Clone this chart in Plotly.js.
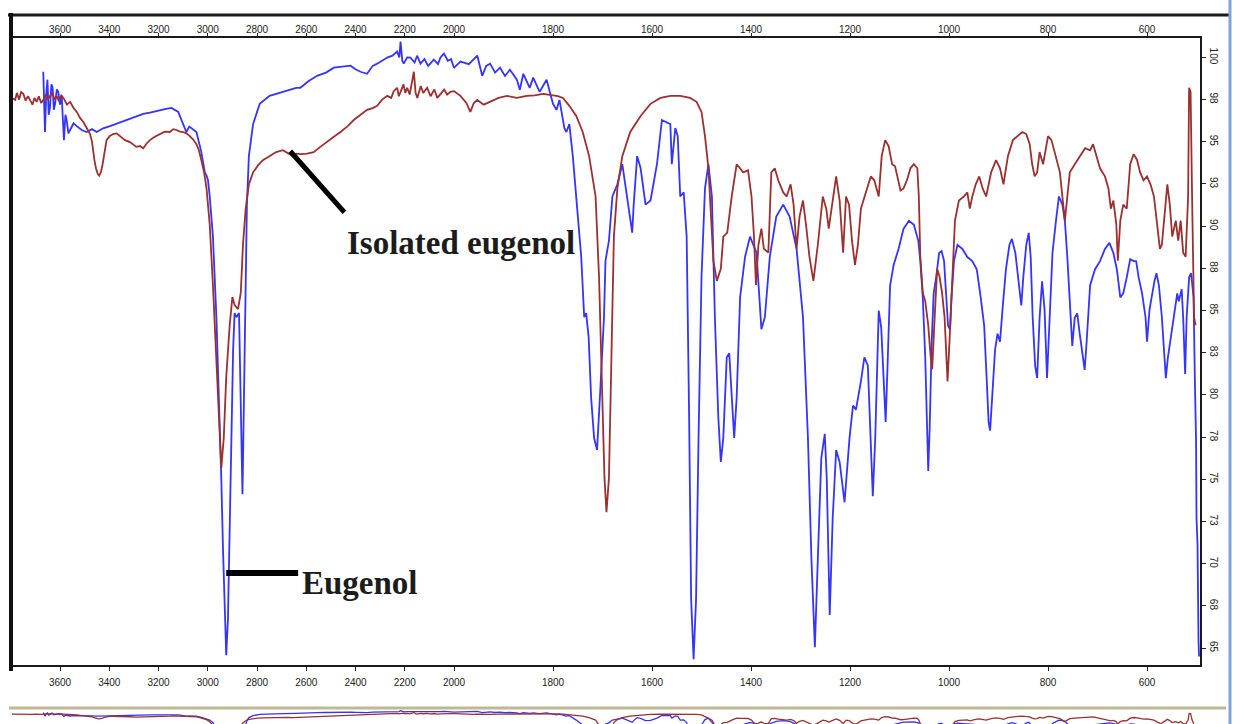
<!DOCTYPE html>
<html>
<head>
<meta charset="utf-8">
<script src="https://cdn.plot.ly/plotly-3.0.1.min.js"></script>
<style>
html,body{margin:0;padding:0;background:#ffffff;}
#chart{width:1246px;height:724px;}
</style>
</head>
<body>
<div id="chart"></div>
<script>
// ---------------- DATA ----------------
const seriesNames = ['Eugenol', 'Isolated eugenol'];

// Eugenol (blue) : wavenumber (cm-1) and %T
const eugenolWavenumber = [3668,3664,3661,3656,3651,3646,3641,3635,3630,3625,3620,3613,3607,3600,3593,3588,3584,3578,3573,3566,3559,3545,3532,3512,3492,3470,3451,3425,3397,3365,3330,3295,3262,3230,3195,3170,3147,3120,3100,3087,3075,3066,3046,3026,3012,3005,2999,2992,2979,2965,2954,2945,2938,2931,2925,2918,2911,2904,2897,2891,2884,2873,2866,2859,2853,2846,2841,2833,2816,2789,2749,2695,2641,2624,2590,2556,2520,2488,2455,2420,2400,2380,2353,2330,2312,2290,2271,2250,2231,2222,2217,2210,2204,2190,2177,2160,2150,2136,2120,2105,2082,2065,2055,2041,2025,2012,2000,1987,1970,1953,1943,1935,1927,1917,1907,1897,1887,1873,1867,1860,1847,1840,1827,1813,1800,1793,1787,1777,1773,1767,1760,1753,1743,1737,1733,1728,1723,1717,1711,1704,1697,1694,1687,1680,1670,1660,1650,1640,1637,1630,1623,1613,1603,1590,1580,1570,1563,1560,1553,1548,1543,1536,1530,1525,1521,1516,1511,1506,1500,1493,1486,1479,1473,1466,1461,1456,1449,1444,1439,1434,1429,1422,1412,1402,1389,1379,1372,1362,1349,1335,1322,1308,1295,1285,1278,1271,1265,1258,1251,1247,1241,1235,1228,1221,1211,1201,1194,1188,1178,1171,1164,1158,1154,1149,1142,1137,1132,1128,1125,1119,1112,1102,1092,1081,1071,1062,1058,1053,1048,1044,1042,1039,1035,1031,1026,1020,1015,1010,1007,1002,998,995,990,983,973,963,953,944,936,929,924,920,917,912,907,902,897,892,885,878,873,866,859,854,850,844,839,835,831,826,822,817,812,807,802,797,791,784,778,771,766,761,756,751,746,741,736,731,726,722,715,705,695,685,676,668,661,654,648,641,634,627,622,617,610,603,600,595,590,585,581,576,570,565,562,558,553,546,539,536,530,527,523,520,515,511,506,503,501,500,498,496,495];
const eugenolTransmittance = [99.15,97.0,95.58,97.8,98.68,96.6,97.01,98.4,98.2,96.9,97.25,98.1,97.96,97.2,97.72,96.2,95.1,96.6,96.29,95.5,95.7,96.1,95.93,95.7,95.58,95.75,95.58,95.8,95.93,96.1,96.29,96.5,96.65,96.75,96.89,96.95,97.01,96.77,96.05,95.58,95.9,95.81,95.58,94.39,93.19,93.0,92.72,91.76,89.38,84.61,79.84,75.07,70.78,66.73,64.58,66.73,72.69,78.65,82.7,84.85,84.61,84.85,79.84,74.12,79.84,86.99,91.28,94.15,96.05,97.25,97.72,97.96,98.2,98.2,98.6,98.91,99.1,99.39,99.45,99.51,99.3,99.15,99.03,99.5,99.63,99.8,99.99,100.1,100.35,100.0,100.94,99.8,99.63,100.0,99.99,99.7,100.1,99.63,99.9,99.5,99.87,99.6,100.0,100.23,99.8,99.9,99.39,99.75,99.6,100.11,98.91,99.5,99.63,99.1,99.39,98.9,99.27,98.68,98.08,99.03,98.2,98.8,97.96,98.68,97.25,96.89,97.48,95.81,95.58,96.05,94.15,91.76,88.19,84.61,84.85,83.42,79.84,77.46,76.74,80.56,84.61,87.95,89.14,91.76,92.48,93.67,91.76,89.62,91.28,94.15,93.43,91.28,91.52,93.67,96.29,96.17,96.05,93.67,95.81,95.34,91.76,92.0,89.38,78.65,67.92,64.35,67.92,77.46,86.99,92.24,93.67,91.76,84.61,78.65,76.03,77.46,82.23,82.47,79.84,77.46,79.84,85.8,88.19,89.38,88.43,83.9,84.61,88.19,90.57,91.28,90.57,88.66,84.61,77.46,70.31,65.06,70.31,76.27,77.7,75.07,66.97,72.69,76.74,76.03,73.64,77.46,79.37,79.13,80.8,82.23,81.75,77.46,74.0,77.46,85.0,84.0,80.5,78.4,81.0,86.5,87.69,88.65,89.84,90.32,90.08,89.13,87.93,85.78,82.19,77.41,75.5,78.13,83.15,86.02,86.97,88.41,88.53,87.93,86.5,84.11,83.87,85.78,87.93,88.89,88.65,88.17,87.93,87.45,85.78,84.11,81.0,78.37,77.89,80.52,82.67,83.63,83.15,85.06,87.45,88.89,89.25,88.41,86.5,85.3,86.97,88.89,89.6,88.17,84.59,81.72,81.0,84.59,86.74,85.06,81.0,84.59,88.41,90.32,91.76,91.28,90.32,88.17,85.3,82.91,84.59,84.83,83.63,82.43,81.48,83.15,86.5,87.45,87.93,88.65,89.01,88.41,87.45,85.78,86.02,86.97,88.05,87.93,87.93,86.97,86.02,84.59,83.15,85.06,86.02,86.74,87.21,86.5,84.59,82.19,81.0,82.19,83.15,84.59,86.02,85.54,86.26,84.59,81.24,84.59,86.97,87.21,85.78,80.28,77.41,72.63,71.2,65.46,64.5];

// Isolated eugenol (brown-red) : wavenumber (cm-1) and %T
const isolatedWavenumber = [3795,3782,3775,3766,3758,3749,3740,3730,3722,3712,3704,3695,3686,3677,3668,3658,3650,3641,3632,3622,3614,3604,3595,3586,3572,3559,3545,3532,3518,3505,3490,3478,3470,3465,3460,3454,3447,3441,3434,3427,3419,3411,3398,3384,3370,3357,3336,3316,3290,3275,3262,3248,3235,3215,3195,3175,3154,3140,3127,3113,3100,3086,3073,3060,3046,3036,3026,3015,3005,2992,2979,2965,2954,2945,2935,2925,2911,2900,2891,2877,2866,2857,2846,2833,2816,2796,2776,2750,2722,2695,2675,2654,2640,2624,2597,2570,2543,2515,2488,2461,2434,2407,2380,2353,2330,2312,2292,2271,2255,2245,2231,2224,2217,2205,2198,2190,2180,2170,2163,2156,2149,2135,2125,2109,2095,2080,2068,2054,2040,2028,2014,2000,1987,1975,1967,1960,1953,1940,1927,1910,1893,1873,1853,1837,1820,1810,1800,1790,1780,1767,1753,1740,1727,1714,1707,1701,1696,1692,1687,1682,1677,1670,1660,1644,1623,1603,1583,1563,1543,1523,1510,1500,1493,1486,1481,1476,1469,1461,1456,1448,1439,1429,1422,1416,1406,1399,1394,1390,1385,1379,1374,1365,1359,1352,1345,1335,1328,1320,1314,1308,1302,1295,1288,1282,1274,1265,1255,1248,1243,1236,1228,1221,1214,1208,1202,1196,1190,1184,1178,1168,1158,1151,1144,1142,1136,1129,1122,1115,1109,1105,1098,1092,1085,1078,1071,1064,1061,1058,1053,1048,1042,1037,1034,1029,1024,1019,1014,1009,1003,999,993,988,980,970,963,958,953,946,939,932,925,915,905,897,890,881,871,861,852,844,837,832,827,822,817,810,805,800,793,784,776,771,766,761,756,746,736,725,715,709,702,695,685,678,673,668,662,659,654,648,641,634,627,620,614,607,600,593,586,580,574,570,565,559,554,549,542,537,532,527,522,517,515,512,509,505,502];
const isolatedTransmittance = [97.6,97.48,97.9,97.5,97.95,97.84,97.45,97.7,97.48,97.2,97.6,97.37,97.7,97.3,97.48,97.8,97.5,97.72,97.9,97.5,97.72,97.4,97.75,97.6,97.2,97.37,97.0,96.77,96.4,96.17,95.8,95.46,95.0,94.39,93.9,93.43,93.1,93.0,93.2,93.67,94.5,95.1,95.35,95.46,95.5,95.34,95.1,94.98,94.7,94.75,94.62,94.9,95.1,95.3,95.46,95.6,95.58,95.75,95.7,95.6,95.58,95.5,95.34,95.15,94.86,94.5,93.91,93.2,92.24,90.09,86.52,82.23,78.65,75.67,77.46,81.04,84.13,85.8,85.33,85.09,86.04,88.9,91.04,92.48,93.19,93.6,93.91,94.15,94.39,94.5,94.35,94.15,94.3,94.27,94.3,94.39,94.7,94.98,95.3,95.58,95.9,96.29,96.6,96.89,97.0,97.13,97.5,97.72,97.6,98.0,98.2,97.7,97.96,98.4,97.9,98.2,97.8,98.5,99.15,97.9,97.6,98.3,97.9,98.2,97.7,98.1,97.6,97.84,98.1,97.8,97.96,98.0,97.72,97.3,96.77,97.3,97.48,97.2,97.37,97.6,97.72,97.6,97.72,97.75,97.84,97.8,97.72,97.7,97.6,97.13,96.53,95.58,94.15,91.76,86.99,79.84,75.07,73.05,75.07,82.23,89.38,92.24,94.15,95.58,96.53,97.25,97.6,97.72,97.72,97.6,97.37,96.77,95.34,93.43,90.57,87.95,86.76,87.47,89.38,89.62,91.76,93.67,93.43,93.19,93.31,91.76,89.38,86.52,88.9,89.86,88.66,88.43,93.19,93.43,92.72,92.0,91.76,92.48,91.28,88.66,90.57,91.52,89.86,88.19,86.76,88.9,91.76,91.04,89.86,91.28,92.95,91.52,88.43,91.76,91.28,89.14,87.71,88.9,91.04,92.0,92.95,92.72,92.0,91.76,94.15,95.1,94.74,93.67,93.55,93.07,92.12,92.24,92.72,93.43,93.67,93.43,91.76,88.19,86.04,85.56,84.13,82.23,81.52,84.61,87.47,86.99,86.04,84.61,80.8,83.19,86.99,90.33,91.52,91.76,92.0,91.04,91.76,92.48,92.95,92.24,91.76,93.19,93.91,93.43,92.48,94.15,95.1,95.34,95.58,95.46,94.86,93.67,92.95,93.19,94.39,93.67,94.62,95.34,95.1,94.15,93.19,91.76,90.33,91.76,93.19,93.67,94.15,94.62,94.5,94.86,94.15,93.43,92.95,92.24,91.04,91.52,90.09,87.95,90.33,91.28,91.04,93.67,94.27,93.91,93.19,92.72,92.95,92.48,91.76,90.09,88.66,88.9,90.57,92.48,91.28,89.38,90.33,89.14,90.33,88.43,88.19,91.76,98.2,97.96,91.76,84.61,84.13];

// Tick labels
const tickLowRegion = [3600, 3400, 3200, 3000, 2800, 2600, 2400, 2200, 2000];
const tickHighRegion = [1800, 1600, 1400, 1200, 1000, 800, 600];
const yTickValues = [100, 97.5, 95, 92.5, 90, 87.5, 85, 82.5, 80, 77.5, 75, 72.5, 70, 67.5, 65];
const yTickLabels = ['100', '98', '95', '93', '90', '88', '85', '83', '80', '78', '75', '73', '70', '68', '65'];

// Axis ranges (expanded scale below 2000 cm-1, as on the instrument plot)
const lowRegionRange = [3795, 2000];
const highRegionRange = [2000, 493];
const transmittanceRange = [64.0, 101.15];

// ---------------- LAYOUT / STYLE ----------------
const W = 1246, H = 724, L = 12, R = 46, T = 38;
const plotW = W - L - R, plotH = H - T;
const split = (454 - L) / plotW;
const px = v => (v - L) / plotW;      // pixel x -> paper x
const py = v => (H - v) / plotH;      // pixel y -> paper y
const mainBottom = py(665);
const stripTop = py(710);

const BLUE = '#3434ff';
const RED = '#9c3030';
const tickFont = {family: 'Liberation Sans, Arial, sans-serif', size: 10, color: '#222'};

function xAxisDef(range, domain, tickvals, extra) {
  return Object.assign({
    range: range, domain: domain, anchor: 'y',
    tickmode: 'array', tickvals: tickvals, ticktext: tickvals.map(String),
    ticks: 'outside', ticklen: 4, tickwidth: 1, tickcolor: '#222',
    showline: true, linecolor: '#1a1a1a', linewidth: 2,
    showgrid: false, zeroline: false, tickfont: tickFont, fixedrange: true
  }, extra || {});
}

const traces = [];
// top (overlaying) axes carry an invisible copy so that they are laid out
[['x3', 'y'], ['x4', 'y']].forEach(([xa, ya]) => {
  traces.push({x: eugenolWavenumber, y: eugenolTransmittance, xaxis: xa, yaxis: ya,
    type: 'scatter', mode: 'lines', showlegend: false, hoverinfo: 'skip', opacity: 0,
    line: {color: BLUE, width: 1}});
});
[['x', 'y', 1.8], ['x2', 'y', 1.8], ['x5', 'y2', 1.3], ['x6', 'y2', 1.3]].forEach(([xa, ya, w]) => {
  traces.push({x: eugenolWavenumber, y: eugenolTransmittance, xaxis: xa, yaxis: ya,
    type: 'scatter', mode: 'lines', name: seriesNames[0], showlegend: false, hoverinfo: 'skip',
    line: {color: BLUE, width: w}});
  traces.push({x: isolatedWavenumber, y: isolatedTransmittance, xaxis: xa, yaxis: ya,
    type: 'scatter', mode: 'lines', name: seriesNames[1], showlegend: false, hoverinfo: 'skip',
    line: {color: RED, width: w}});
});

const labelFont = {family: 'Liberation Serif, Times New Roman, serif', size: 33, color: '#1c1c1c'};

const layout = {
  width: W, height: H,
  margin: {l: L, r: R, t: T, b: 0, pad: 0},
  paper_bgcolor: '#ffffff', plot_bgcolor: '#ffffff',
  showlegend: false,
  xaxis: xAxisDef(lowRegionRange, [0, split], tickLowRegion, {ticklabelstandoff: 3}),
  xaxis2: xAxisDef(highRegionRange, [split, 1], tickHighRegion, {ticklabelstandoff: 3}),
  xaxis3: xAxisDef(lowRegionRange, [0, split], tickLowRegion, {overlaying: 'x', side: 'top', ticklen: 3, ticklabelstandoff: -4}),
  xaxis4: xAxisDef(highRegionRange, [split, 1], tickHighRegion, {overlaying: 'x2', side: 'top', ticklen: 3, ticklabelstandoff: -4}),
  yaxis: {
    domain: [mainBottom, 1], range: transmittanceRange, side: 'right', anchor: 'x2',
    tickmode: 'array', tickvals: yTickValues, ticktext: yTickLabels, tickangle: 90,
    ticks: 'outside', ticklen: 4, tickwidth: 1, tickcolor: '#222',
    showline: true, linecolor: '#1a1a1a', linewidth: 2,
    showgrid: false, zeroline: false, tickfont: tickFont, fixedrange: true
  },
  xaxis5: {domain: [0, split], range: lowRegionRange, anchor: 'y2', visible: false, fixedrange: true},
  xaxis6: {domain: [split, 1], range: highRegionRange, anchor: 'y2', visible: false, fixedrange: true},
  yaxis2: {domain: [0, stripTop], range: [88, 101.5], anchor: 'x5', visible: false, fixedrange: true},
  annotations: [
    {text: '<b>Isolated eugenol</b>', xref: 'x', yref: 'y', x: 2441, y: 88.98, xanchor: 'left', yanchor: 'middle',
     showarrow: false, font: labelFont},
    {text: '<b>Eugenol</b>', xref: 'x', yref: 'y', x: 2624, y: 68.86, xanchor: 'left', yanchor: 'middle',
     showarrow: false, font: labelFont}
  ],
  shapes: [
    // pointer lines of the labels
    {type: 'line', xref: 'x', yref: 'y', x0: 2665, y0: 94.44, x1: 2445, y1: 90.82, line: {color: '#000', width: 5}},
    {type: 'line', xref: 'x', yref: 'y', x0: 2925, y0: 69.45, x1: 2633, y1: 69.45, line: {color: '#000', width: 6}},
    // window frame
    {type: 'line', xref: 'paper', yref: 'paper', x0: px(8), x1: px(1230), y0: py(15), y1: py(15), line: {color: '#1a1a1a', width: 3}},
    {type: 'line', xref: 'paper', yref: 'paper', x0: px(11), x1: px(11), y0: py(13), y1: py(671), line: {color: '#111', width: 4}},
    {type: 'line', xref: 'paper', yref: 'paper', x0: px(9), x1: px(1226), y0: py(708), y1: py(708), line: {color: '#bfb895', width: 3}},
    {type: 'line', xref: 'paper', yref: 'paper', x0: px(1230), x1: px(1230), y0: py(0), y1: py(724), line: {color: '#7ea4de', width: 3}}
  ]
};

Plotly.newPlot('chart', traces, layout, {staticPlot: true, displayModeBar: false});
</script>
</body>
</html>
